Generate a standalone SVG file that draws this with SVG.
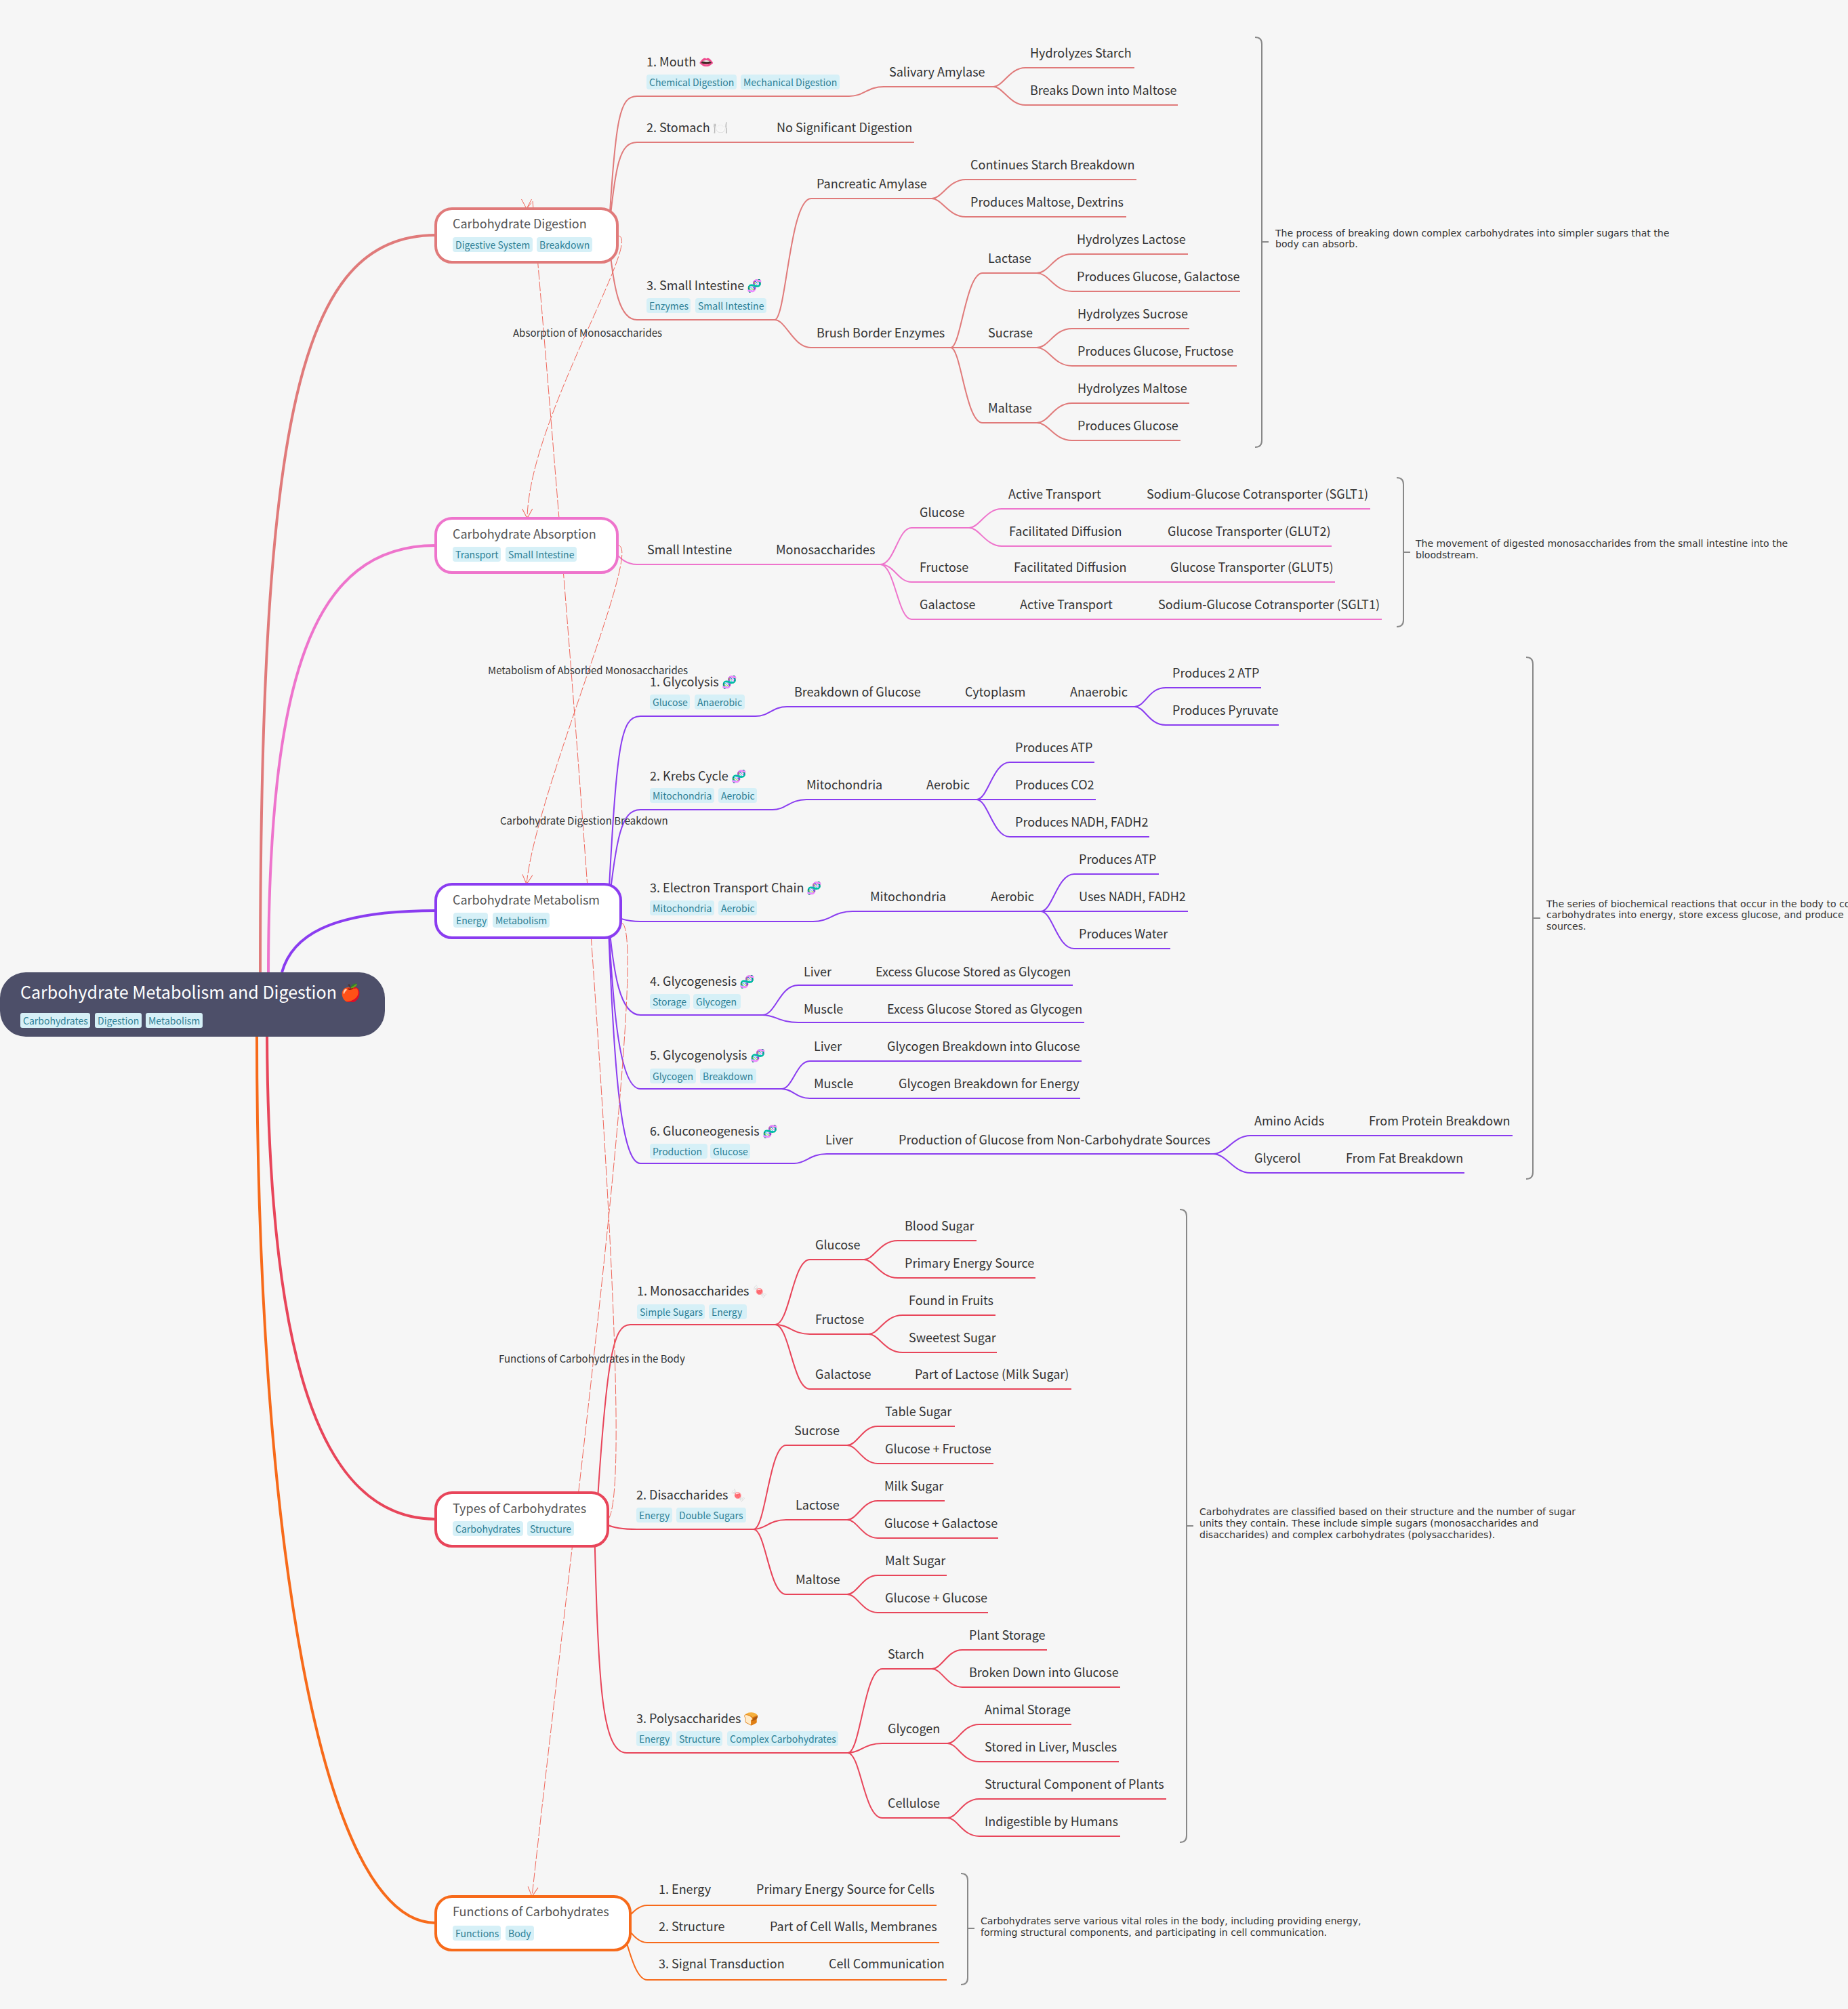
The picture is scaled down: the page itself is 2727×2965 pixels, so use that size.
<svg xmlns="http://www.w3.org/2000/svg" width="2727" height="2965" viewBox="0 0 2727 2965">
<style>
text{font-family:"Noto Sans CJK SC","Noto Sans",sans-serif}
.t{font-size:18px;fill:#333}
.tt{font-size:18px;fill:#555}
.tg{fill:#d6f0f7}
.tgt{font-size:14px;fill:#2d7f95}
.rel{font-size:15px;fill:#333}
.sum{font-family:"DejaVu Sans",sans-serif;font-size:14.07px;fill:#333}
.l{fill:none;stroke-width:2}
.m{fill:none;stroke-width:4}
.c1{stroke:#e07a7a}.c2{stroke:#ee74cc}.c3{stroke:#8a3cf0}.c4{stroke:#e8455a}.c5{stroke:#f76a1a}
.n{fill:#fff;stroke-width:4}
.br{fill:none;stroke:#888;stroke-width:2}
.d{fill:none;stroke:#f0665a;stroke-width:1;stroke-dasharray:14 3}
</style>
<defs>
<marker id="v" markerUnits="userSpaceOnUse" markerWidth="20" markerHeight="20" refX="16" refY="9" orient="auto"><path d="M2 1.5L16 9L2 16.5" fill="none" stroke="#f0665a" stroke-width="1"/></marker>
<marker id="vd" markerUnits="userSpaceOnUse" markerWidth="20" markerHeight="20" refX="16" refY="9" orient="90"><path d="M2 1.5L16 9L2 16.5" fill="none" stroke="#f0665a" stroke-width="1"/></marker>
</defs>
<rect width="2727" height="2965" fill="#f6f6f6"/>
<g id="connectors">
<path class="m c1" d="M384 1440C384 620 440 347 643 347"/>
<path class="m c2" d="M396 1440C396 1000 460 805 643 805"/>
<path class="m c3" d="M416 1435C430 1385 480 1344 643 1344"/>
<path class="m c4" d="M394 1525C396 2000 470 2242 643 2242"/>
<path class="m c5" d="M379 1525C379 2250 470 2838 643 2838"/>
<path class="l c1" d="M898 347C908 170 915 142 940 142H1253C1275 142 1280 128 1304 128H1466"/>
<path class="l c1" d="M898 347C908 240 915 210 940 210H1349"/>
<path class="l c1" d="M898 347C905 430 915 472 940 472H1143"/>
<path class="l c1" d="M1466 128C1480 128 1490 100 1513 100H1674"/>
<path class="l c1" d="M1466 128C1480 128 1490 155 1513 155H1738"/>
<path class="l c1" d="M1143 472C1160 472 1165 293 1197 293H1375"/>
<path class="l c1" d="M1143 472C1160 472 1170 513 1197 513H1403"/>
<path class="l c1" d="M1375 293C1390 293 1400 265 1425 265H1677"/>
<path class="l c1" d="M1375 293C1390 293 1400 320 1425 320H1662"/>
<path class="l c1" d="M1403 513C1418 513 1425 403 1450 403H1530"/>
<path class="l c1" d="M1403 513H1530"/>
<path class="l c1" d="M1403 513C1418 513 1425 624 1450 624H1530"/>
<path class="l c1" d="M1530 403C1548 403 1555 375 1582 375H1753"/>
<path class="l c1" d="M1530 403C1548 403 1555 430 1582 430H1830"/>
<path class="l c1" d="M1530 513C1548 513 1555 485 1582 485H1755"/>
<path class="l c1" d="M1530 513C1548 513 1555 540 1582 540H1825"/>
<path class="l c1" d="M1530 624C1548 624 1555 595 1582 595H1755"/>
<path class="l c1" d="M1530 624C1548 624 1555 650 1582 650H1742"/>
<path class="l c2" d="M905 812C915 825 925 833 940 833H1299"/>
<path class="l c2" d="M1299 833C1320 833 1325 779 1345 779H1430"/>
<path class="l c2" d="M1299 833C1320 833 1325 859 1345 859H1970"/>
<path class="l c2" d="M1299 833C1320 833 1325 914 1345 914H2039"/>
<path class="l c2" d="M1430 779C1445 779 1455 751 1478 751H2022"/>
<path class="l c2" d="M1430 779C1445 779 1455 806 1478 806H1965"/>
<path class="l c3" d="M897 1345C910 1100 915 1057 945 1057H1115C1135 1057 1140 1043 1161 1043H1674"/>
<path class="l c3" d="M1674 1043C1690 1043 1695 1015 1720 1015H1861"/>
<path class="l c3" d="M1674 1043C1690 1043 1695 1070 1720 1070H1887"/>
<path class="l c3" d="M897 1345C910 1240 915 1195 945 1195H1140C1160 1195 1165 1180 1190 1180H1441"/>
<path class="l c3" d="M1441 1180C1458 1180 1465 1125 1490 1125H1615"/>
<path class="l c3" d="M1441 1180H1617"/>
<path class="l c3" d="M1441 1180C1458 1180 1465 1235 1490 1235H1696"/>
<path class="l c3" d="M897 1345C905 1352 920 1360 945 1360H1200C1225 1360 1230 1345 1258 1345H1536"/>
<path class="l c3" d="M1536 1345C1553 1345 1560 1290 1585 1290H1710"/>
<path class="l c3" d="M1536 1345H1753"/>
<path class="l c3" d="M1536 1345C1553 1345 1560 1400 1585 1400H1727"/>
<path class="l c3" d="M897 1345C905 1440 915 1498 945 1498H1125"/>
<path class="l c3" d="M1125 1498C1145 1498 1150 1454 1178 1454H1583"/>
<path class="l c3" d="M1125 1498C1145 1498 1150 1509 1178 1509H1600"/>
<path class="l c3" d="M897 1345C905 1500 915 1607 945 1607H1153"/>
<path class="l c3" d="M1153 1607C1170 1607 1175 1566 1195 1566H1596"/>
<path class="l c3" d="M1153 1607C1170 1607 1175 1621 1195 1621H1594"/>
<path class="l c3" d="M897 1345C905 1560 915 1717 945 1717H1172C1190 1717 1195 1703 1220 1703H1790"/>
<path class="l c3" d="M1790 1703C1810 1703 1820 1676 1845 1676H2232"/>
<path class="l c3" d="M1790 1703C1810 1703 1820 1731 1845 1731H2161"/>
<path class="l c4" d="M880 2243C895 2000 905 1955 930 1955H1144"/>
<path class="l c4" d="M1144 1955C1165 1955 1170 1859 1195 1859H1275"/>
<path class="l c4" d="M1144 1955C1165 1955 1170 1969 1195 1969H1282"/>
<path class="l c4" d="M1144 1955C1165 1955 1170 2050 1195 2050H1581"/>
<path class="l c4" d="M1275 1859C1290 1859 1298 1831 1325 1831H1441"/>
<path class="l c4" d="M1275 1859C1290 1859 1298 1886 1325 1886H1528"/>
<path class="l c4" d="M1282 1969C1297 1969 1305 1941 1332 1941H1469"/>
<path class="l c4" d="M1282 1969C1297 1969 1305 1996 1332 1996H1471"/>
<path class="l c4" d="M895 2250C905 2255 920 2257 940 2257H1112"/>
<path class="l c4" d="M1112 2257C1130 2257 1135 2133 1160 2133H1250"/>
<path class="l c4" d="M1112 2257C1130 2257 1135 2243 1160 2243H1250"/>
<path class="l c4" d="M1112 2257C1130 2257 1135 2353 1160 2353H1250"/>
<path class="l c4" d="M1250 2133C1265 2133 1273 2105 1295 2105H1409"/>
<path class="l c4" d="M1250 2133C1265 2133 1273 2160 1295 2160H1466"/>
<path class="l c4" d="M1250 2243C1265 2243 1273 2215 1295 2215H1394"/>
<path class="l c4" d="M1250 2243C1265 2243 1273 2270 1295 2270H1473"/>
<path class="l c4" d="M1250 2353C1265 2353 1273 2325 1295 2325H1397"/>
<path class="l c4" d="M1250 2353C1265 2353 1273 2380 1295 2380H1458"/>
<path class="l c4" d="M877 2243C882 2500 890 2587 925 2587H1251"/>
<path class="l c4" d="M1251 2587C1270 2587 1275 2463 1302 2463H1375"/>
<path class="l c4" d="M1251 2587C1270 2587 1275 2573 1302 2573H1398"/>
<path class="l c4" d="M1251 2587C1270 2587 1275 2683 1302 2683H1398"/>
<path class="l c4" d="M1375 2463C1390 2463 1398 2435 1420 2435H1545"/>
<path class="l c4" d="M1375 2463C1390 2463 1398 2490 1420 2490H1653"/>
<path class="l c4" d="M1398 2573C1413 2573 1420 2545 1445 2545H1581"/>
<path class="l c4" d="M1398 2573C1413 2573 1420 2600 1445 2600H1651"/>
<path class="l c4" d="M1398 2683C1413 2683 1420 2655 1445 2655H1721"/>
<path class="l c4" d="M1398 2683C1413 2683 1420 2710 1445 2710H1653"/>
<path class="l c5" d="M915 2838C925 2838 935 2812 955 2812H1382"/>
<path class="l c5" d="M915 2838C925 2838 935 2867 955 2867H1386"/>
<path class="l c5" d="M915 2838C925 2860 935 2922 955 2922H1397"/>
<path class="d" marker-end="url(#v)" d="M912 348C950 350 780 620 778 765"/>
<path class="d" marker-end="url(#v)" d="M912 805C950 805 790 1170 777 1305"/>
<path class="d" marker-end="url(#vd)" d="M897 2243C935 2200 880 1400 786 297L777 308"/>
<path class="d" marker-end="url(#v)" d="M917 1362C960 1370 840 2300 785 2799"/>
</g>
<g id="rel-labels">
<text class="rel" x="757" y="497">Absorption of Monosaccharides</text>
<text class="rel" x="720" y="995">Metabolism of Absorbed Monosaccharides</text>
<text class="rel" x="738" y="1217">Carbohydrate Digestion Breakdown</text>
<text class="rel" x="736" y="2011">Functions of Carbohydrates in the Body</text>
</g>
<g id="summaries">
<path class="br" d="M1852 55Q1862 55 1862 65V650Q1862 660 1852 660M1862 357H1872"/>
<text class="sum" x="1882" y="349">The process of breaking down complex carbohydrates into simpler sugars that the</text>
<text class="sum" x="1882" y="365">body can absorb.</text>
<path class="br" d="M2061 705Q2071 705 2071 715V915Q2071 925 2061 925M2071 815H2081"/>
<text class="sum" x="2089" y="807">The movement of digested monosaccharides from the small intestine into the</text>
<text class="sum" x="2089" y="824">bloodstream.</text>
<path class="br" d="M2252 970Q2262 970 2262 980V1730Q2262 1740 2252 1740M2262 1355H2273"/>
<text class="sum" x="2282" y="1339">The series of biochemical reactions that occur in the body to co</text>
<text class="sum" x="2282" y="1355">carbohydrates into energy, store excess glucose, and produce</text>
<text class="sum" x="2282" y="1372">sources.</text>
<path class="br" d="M1741 1785Q1751 1785 1751 1795V2709Q1751 2719 1741 2719M1751 2252H1761"/>
<text class="sum" x="1770" y="2236">Carbohydrates are classified based on their structure and the number of sugar</text>
<text class="sum" x="1770" y="2253">units they contain. These include simple sugars (monosaccharides and</text>
<text class="sum" x="1770" y="2270">disaccharides) and complex carbohydrates (polysaccharides).</text>
<path class="br" d="M1418 2765Q1428 2765 1428 2775V2919Q1428 2929 1418 2929M1428 2846H1438"/>
<text class="sum" x="1447" y="2840">Carbohydrates serve various vital roles in the body, including providing energy,</text>
<text class="sum" x="1447" y="2857">forming structural components, and participating in cell communication.</text>
</g>
<g id="root">
<rect x="0" y="1435" width="568" height="95" rx="38" fill="#4d4f69"/>
<text x="30" y="1474" font-size="25" fill="#fff">Carbohydrate Metabolism and Digestion 🍎</text>
<rect class="tg" x="30" y="1495" width="103" height="22" rx="3"/><text class="tgt" x="34" y="1512">Carbohydrates</text>
<rect class="tg" x="140" y="1495" width="69" height="22" rx="3"/><text class="tgt" x="144" y="1512">Digestion</text>
<rect class="tg" x="215" y="1495" width="84" height="22" rx="3"/><text class="tgt" x="219" y="1512">Metabolism</text>
</g>
<g id="digestion">
<rect class="n c1" x="643" y="308" width="268" height="79" rx="24"/>
<text class="tt" x="668" y="337">Carbohydrate Digestion</text>
<rect class="tg" x="668" y="350" width="118" height="22" rx="4"/><text class="tgt" x="672" y="367">Digestive System</text>
<rect class="tg" x="792" y="350" width="82" height="22" rx="4"/><text class="tgt" x="796" y="367">Breakdown</text>
</g>
<g id="d-mouth"><text class="t" x="954" y="98">1. Mouth 👄</text>
<rect class="tg" x="954" y="110" width="133" height="22" rx="4"/><text class="tgt" x="958" y="127">Chemical Digestion</text>
<rect class="tg" x="1093" y="110" width="146" height="22" rx="4"/><text class="tgt" x="1097" y="127">Mechanical Digestion</text></g>
<g id="d-stomach"><text class="t" x="954" y="195">2. Stomach 🍽️</text><text class="t" x="1146" y="195">No Significant Digestion</text></g>
<g id="d-small"><text class="t" x="954" y="428">3. Small Intestine 🧬</text>
<rect class="tg" x="954" y="440" width="65" height="22" rx="4"/><text class="tgt" x="958" y="457">Enzymes</text>
<rect class="tg" x="1026" y="440" width="105" height="22" rx="4"/><text class="tgt" x="1030" y="457">Small Intestine</text></g>
<g id="d-sub">
<text class="t" x="1312" y="113">Salivary Amylase</text>
<text class="t" x="1520" y="85">Hydrolyzes Starch</text>
<text class="t" x="1520" y="140">Breaks Down into Maltose</text>
<text class="t" x="1205" y="278">Pancreatic Amylase</text>
<text class="t" x="1205" y="498">Brush Border Enzymes</text>
<text class="t" x="1432" y="250">Continues Starch Breakdown</text>
<text class="t" x="1432" y="305">Produces Maltose, Dextrins</text>
<text class="t" x="1458" y="388">Lactase</text>
<text class="t" x="1458" y="498">Sucrase</text>
<text class="t" x="1458" y="609">Maltase</text>
<text class="t" x="1589" y="360">Hydrolyzes Lactose</text>
<text class="t" x="1589" y="415">Produces Glucose, Galactose</text>
<text class="t" x="1590" y="470">Hydrolyzes Sucrose</text>
<text class="t" x="1590" y="525">Produces Glucose, Fructose</text>
<text class="t" x="1590" y="580">Hydrolyzes Maltose</text>
<text class="t" x="1590" y="635">Produces Glucose</text>
</g>
<g id="absorption">
<rect class="n c2" x="643" y="765" width="268" height="80" rx="24"/>
<text class="tt" x="668" y="795">Carbohydrate Absorption</text>
<rect class="tg" x="668" y="807" width="71" height="22" rx="4"/><text class="tgt" x="672" y="824">Transport</text>
<rect class="tg" x="746" y="807" width="105" height="22" rx="4"/><text class="tgt" x="750" y="824">Small Intestine</text>
</g>
<g id="a-sub">
<text class="t" x="955" y="818">Small Intestine</text>
<text class="t" x="1145" y="818">Monosaccharides</text>
<text class="t" x="1357" y="763">Glucose</text>
<text class="t" x="1357" y="844">Fructose</text>
<text class="t" x="1357" y="899">Galactose</text>
<text class="t" x="1488" y="736">Active Transport</text>
<text class="t" x="1692" y="736">Sodium-Glucose Cotransporter (SGLT1)</text>
<text class="t" x="1489" y="791">Facilitated Diffusion</text>
<text class="t" x="1723" y="791">Glucose Transporter (GLUT2)</text>
<text class="t" x="1496" y="844">Facilitated Diffusion</text>
<text class="t" x="1727" y="844">Glucose Transporter (GLUT5)</text>
<text class="t" x="1505" y="899">Active Transport</text>
<text class="t" x="1709" y="899">Sodium-Glucose Cotransporter (SGLT1)</text>
</g>
<g id="metabolism">
<rect class="n c3" x="643" y="1305" width="273" height="79" rx="24"/>
<text class="tt" x="668" y="1335">Carbohydrate Metabolism</text>
<rect class="tg" x="669" y="1347" width="51" height="22" rx="4"/><text class="tgt" x="673" y="1364">Energy</text>
<rect class="tg" x="727" y="1347" width="84" height="22" rx="4"/><text class="tgt" x="731" y="1364">Metabolism</text>
</g>
<g id="m-1"><text class="t" x="959" y="1013">1. Glycolysis 🧬</text>
<rect class="tg" x="959" y="1025" width="59" height="22" rx="4"/><text class="tgt" x="963" y="1042">Glucose</text>
<rect class="tg" x="1025" y="1025" width="74" height="22" rx="4"/><text class="tgt" x="1029" y="1042">Anaerobic</text>
<text class="t" x="1172" y="1028">Breakdown of Glucose</text><text class="t" x="1424" y="1028">Cytoplasm</text><text class="t" x="1579" y="1028">Anaerobic</text>
<text class="t" x="1730" y="1000">Produces 2 ATP</text><text class="t" x="1730" y="1055">Produces Pyruvate</text></g>
<g id="m-2"><text class="t" x="959" y="1152">2. Krebs Cycle 🧬</text>
<rect class="tg" x="959" y="1163" width="95" height="22" rx="4"/><text class="tgt" x="963" y="1180">Mitochondria</text>
<rect class="tg" x="1060" y="1163" width="57" height="22" rx="4"/><text class="tgt" x="1064" y="1180">Aerobic</text>
<text class="t" x="1190" y="1165">Mitochondria</text><text class="t" x="1367" y="1165">Aerobic</text>
<text class="t" x="1498" y="1110">Produces ATP</text><text class="t" x="1498" y="1165">Produces CO2</text><text class="t" x="1498" y="1220">Produces NADH, FADH2</text></g>
<g id="m-3"><text class="t" x="959" y="1317">3. Electron Transport Chain 🧬</text>
<rect class="tg" x="959" y="1329" width="95" height="22" rx="4"/><text class="tgt" x="963" y="1346">Mitochondria</text>
<rect class="tg" x="1060" y="1329" width="57" height="22" rx="4"/><text class="tgt" x="1064" y="1346">Aerobic</text>
<text class="t" x="1284" y="1330">Mitochondria</text><text class="t" x="1462" y="1330">Aerobic</text>
<text class="t" x="1592" y="1275">Produces ATP</text><text class="t" x="1592" y="1330">Uses NADH, FADH2</text><text class="t" x="1592" y="1385">Produces Water</text></g>
<g id="m-4"><text class="t" x="959" y="1455">4. Glycogenesis 🧬</text>
<rect class="tg" x="959" y="1467" width="59" height="22" rx="4"/><text class="tgt" x="963" y="1484">Storage</text>
<rect class="tg" x="1023" y="1467" width="70" height="22" rx="4"/><text class="tgt" x="1027" y="1484">Glycogen</text>
<text class="t" x="1186" y="1441">Liver</text><text class="t" x="1292" y="1441">Excess Glucose Stored as Glycogen</text>
<text class="t" x="1186" y="1496">Muscle</text><text class="t" x="1309" y="1496">Excess Glucose Stored as Glycogen</text></g>
<g id="m-5"><text class="t" x="959" y="1564">5. Glycogenolysis 🧬</text>
<rect class="tg" x="959" y="1577" width="68" height="22" rx="4"/><text class="tgt" x="963" y="1594">Glycogen</text>
<rect class="tg" x="1033" y="1577" width="83" height="22" rx="4"/><text class="tgt" x="1037" y="1594">Breakdown</text>
<text class="t" x="1201" y="1551">Liver</text><text class="t" x="1309" y="1551">Glycogen Breakdown into Glucose</text>
<text class="t" x="1201" y="1606">Muscle</text><text class="t" x="1326" y="1606">Glycogen Breakdown for Energy</text></g>
<g id="m-6"><text class="t" x="959" y="1676">6. Gluconeogenesis 🧬</text>
<rect class="tg" x="959" y="1688" width="85" height="22" rx="4"/><text class="tgt" x="963" y="1705">Production</text>
<rect class="tg" x="1048" y="1688" width="59" height="22" rx="4"/><text class="tgt" x="1052" y="1705">Glucose</text>
<text class="t" x="1218" y="1689">Liver</text><text class="t" x="1326" y="1689">Production of Glucose from Non-Carbohydrate Sources</text>
<text class="t" x="1851" y="1661">Amino Acids</text><text class="t" x="2020" y="1661">From Protein Breakdown</text>
<text class="t" x="1851" y="1716">Glycerol</text><text class="t" x="1986" y="1716">From Fat Breakdown</text></g>
<g id="types">
<rect class="n c4" x="643" y="2203" width="254" height="79" rx="24"/>
<text class="tt" x="668" y="2233">Types of Carbohydrates</text>
<rect class="tg" x="668" y="2245" width="104" height="22" rx="4"/><text class="tgt" x="672" y="2262">Carbohydrates</text>
<rect class="tg" x="778" y="2245" width="69" height="22" rx="4"/><text class="tgt" x="782" y="2262">Structure</text>
</g>
<g id="t-1"><text class="t" x="940" y="1912">1. Monosaccharides 🍬</text>
<rect class="tg" x="940" y="1925" width="100" height="22" rx="4"/><text class="tgt" x="944" y="1942">Simple Sugars</text>
<rect class="tg" x="1046" y="1925" width="56" height="22" rx="4"/><text class="tgt" x="1050" y="1942">Energy</text>
<text class="t" x="1203" y="1844">Glucose</text><text class="t" x="1203" y="1954">Fructose</text><text class="t" x="1203" y="2035">Galactose</text>
<text class="t" x="1335" y="1816">Blood Sugar</text><text class="t" x="1335" y="1871">Primary Energy Source</text>
<text class="t" x="1341" y="1926">Found in Fruits</text><text class="t" x="1341" y="1981">Sweetest Sugar</text>
<text class="t" x="1350" y="2035">Part of Lactose (Milk Sugar)</text></g>
<g id="t-2"><text class="t" x="939" y="2213">2. Disaccharides 🍬</text>
<rect class="tg" x="939" y="2225" width="53" height="22" rx="4"/><text class="tgt" x="943" y="2242">Energy</text>
<rect class="tg" x="998" y="2225" width="103" height="22" rx="4"/><text class="tgt" x="1002" y="2242">Double Sugars</text>
<text class="t" x="1172" y="2118">Sucrose</text><text class="t" x="1174" y="2228">Lactose</text><text class="t" x="1174" y="2338">Maltose</text>
<text class="t" x="1306" y="2090">Table Sugar</text><text class="t" x="1306" y="2145">Glucose + Fructose</text>
<text class="t" x="1305" y="2200">Milk Sugar</text><text class="t" x="1305" y="2255">Glucose + Galactose</text>
<text class="t" x="1306" y="2310">Malt Sugar</text><text class="t" x="1306" y="2365">Glucose + Glucose</text></g>
<g id="t-3"><text class="t" x="939" y="2543">3. Polysaccharides 🍞</text>
<rect class="tg" x="939" y="2555" width="53" height="22" rx="4"/><text class="tgt" x="943" y="2572">Energy</text>
<rect class="tg" x="998" y="2555" width="68" height="22" rx="4"/><text class="tgt" x="1002" y="2572">Structure</text>
<rect class="tg" x="1073" y="2555" width="164" height="22" rx="4"/><text class="tgt" x="1077" y="2572">Complex Carbohydrates</text>
<text class="t" x="1310" y="2448">Starch</text><text class="t" x="1310" y="2558">Glycogen</text><text class="t" x="1310" y="2668">Cellulose</text>
<text class="t" x="1430" y="2420">Plant Storage</text><text class="t" x="1430" y="2475">Broken Down into Glucose</text>
<text class="t" x="1453" y="2530">Animal Storage</text><text class="t" x="1453" y="2585">Stored in Liver, Muscles</text>
<text class="t" x="1453" y="2640">Structural Component of Plants</text><text class="t" x="1453" y="2695">Indigestible by Humans</text></g>
<g id="functions">
<rect class="n c5" x="643" y="2799" width="287" height="79" rx="24"/>
<text class="tt" x="668" y="2828">Functions of Carbohydrates</text>
<rect class="tg" x="668" y="2842" width="71" height="22" rx="4"/><text class="tgt" x="672" y="2859">Functions</text>
<rect class="tg" x="746" y="2842" width="42" height="22" rx="4"/><text class="tgt" x="750" y="2859">Body</text>
</g>
<g id="f-sub">
<text class="t" x="972" y="2795">1. Energy</text><text class="t" x="1116" y="2795">Primary Energy Source for Cells</text>
<text class="t" x="972" y="2850">2. Structure</text><text class="t" x="1136" y="2850">Part of Cell Walls, Membranes</text>
<text class="t" x="972" y="2905">3. Signal Transduction</text><text class="t" x="1223" y="2905">Cell Communication</text>
</g>
</svg>
